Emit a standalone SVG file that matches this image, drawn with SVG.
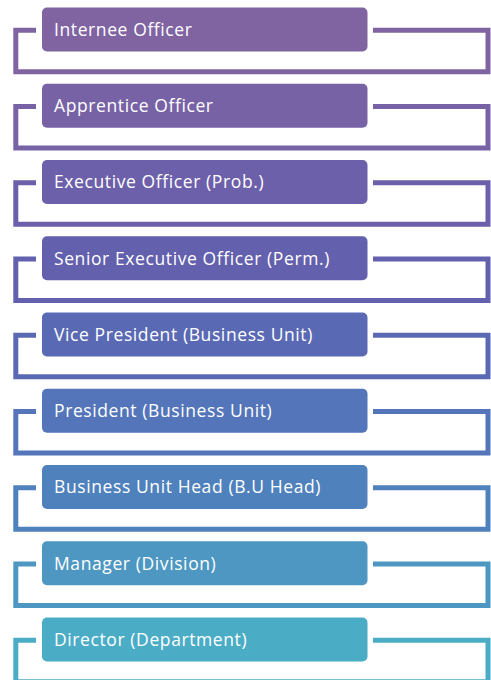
<svg xmlns="http://www.w3.org/2000/svg" width="491" height="680" viewBox="0 0 491 680">
<style>
.box{stroke:none}
.lbl{font-family:"Open Sans","Liberation Sans",sans-serif;font-size:17.5px;letter-spacing:0.6px;fill:#ffffff}
.br{fill:none;stroke-width:5;stroke-linejoin:miter}
</style>
<rect width="491" height="680" fill="#ffffff"/>
<g id="connectors">
<path class="br" stroke="#8064A2" d="M36,30.2 H15.8 V71.8 H488 V30.2 H373"/>
<path class="br" stroke="#7862A6" d="M36,106.45 H15.8 V148.05 H488 V106.45 H373"/>
<path class="br" stroke="#6D60AA" d="M36,182.7 H15.8 V224.3 H488 V182.7 H373"/>
<path class="br" stroke="#6360AE" d="M36,258.95 H15.8 V300.55 H488 V258.95 H373"/>
<path class="br" stroke="#5A69B4" d="M36,335.2 H15.8 V376.8 H488 V335.2 H373"/>
<path class="br" stroke="#5475B9" d="M36,411.45 H15.8 V453.05 H488 V411.45 H373"/>
<path class="br" stroke="#4F81BD" d="M36,487.7 H15.8 V529.3 H488 V487.7 H373"/>
<path class="br" stroke="#4D97C2" d="M36,563.95 H15.8 V605.55 H488 V563.95 H373"/>
<path class="br" stroke="#4BACC6" d="M36,640.2 H15.8 V681.8 H488 V640.2 H373"/>
</g>
<g id="n1"><rect class="box" x="42" y="7.5" width="325.5" height="44" rx="5" fill="#8064A2"/><text class="lbl" x="54" y="35.8">Internee Officer</text></g>
<g id="n2"><rect class="box" x="42" y="83.75" width="325.5" height="44" rx="5" fill="#7862A6"/><text class="lbl" x="54" y="112.05">Apprentice Officer</text></g>
<g id="n3"><rect class="box" x="42" y="160" width="325.5" height="44" rx="5" fill="#6D60AA"/><text class="lbl" x="54" y="188.3">Executive Officer (Prob.)</text></g>
<g id="n4"><rect class="box" x="42" y="236.25" width="325.5" height="44" rx="5" fill="#6360AE"/><text class="lbl" x="54" y="264.55">Senior Executive Officer (Perm.)</text></g>
<g id="n5"><rect class="box" x="42" y="312.5" width="325.5" height="44" rx="5" fill="#5A69B4"/><text class="lbl" x="54" y="340.8">Vice President (Business Unit)</text></g>
<g id="n6"><rect class="box" x="42" y="388.75" width="325.5" height="44" rx="5" fill="#5475B9"/><text class="lbl" x="54" y="417.05">President (Business Unit)</text></g>
<g id="n7"><rect class="box" x="42" y="465" width="325.5" height="44" rx="5" fill="#4F81BD"/><text class="lbl" x="54" y="493.3">Business Unit Head (B.U Head)</text></g>
<g id="n8"><rect class="box" x="42" y="541.25" width="325.5" height="44" rx="5" fill="#4D97C2"/><text class="lbl" x="54" y="569.55">Manager (Division)</text></g>
<g id="n9"><rect class="box" x="42" y="617.5" width="325.5" height="44" rx="5" fill="#4BACC6"/><text class="lbl" x="54" y="645.8">Director (Department)</text></g>
</svg>
